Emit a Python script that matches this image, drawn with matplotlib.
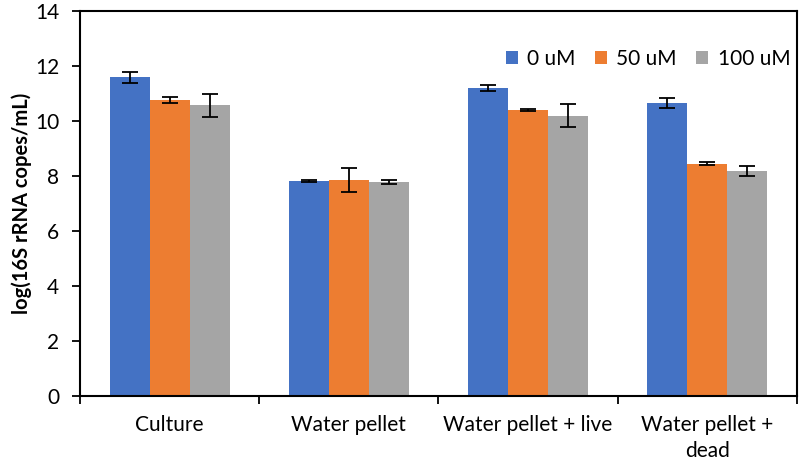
import numpy as np
import matplotlib
matplotlib.use('Agg')
import matplotlib.pyplot as plt

plt.rcParams['font.family'] = ['Lato', 'DejaVu Sans']

# data
categories = ['Culture', 'Water pellet', 'Water pellet + live', 'Water pellet +\ndead']
series = ['0 uM', '50 uM', '100 uM']
vals_0 = [11.6, 7.82, 11.2, 10.65]
vals_50 = [10.77, 7.86, 10.4, 8.45]
vals_100 = [10.57, 7.78, 10.2, 8.17]
err_0 = [0.2, 0.02, 0.12, 0.18]
err_50 = [0.1, 0.44, 0.02, 0.06]
err_100 = [0.42, 0.06, 0.42, 0.18]
colors = ['#4472C4', '#ED7D31', '#A5A5A5']

fig, ax = plt.subplots(figsize=(8, 4.63), dpi=100)
fig.subplots_adjust(left=0.1, right=0.996, top=0.976, bottom=0.145)

x = np.arange(len(categories))
w = 0.223
for i, (v, e, c, lab) in enumerate(zip([vals_0, vals_50, vals_100],
                                        [err_0, err_50, err_100], colors, series)):
    ax.bar(x + (i - 1) * w, v, w, color=c, label=lab, zorder=2)
    ax.errorbar(x + (i - 1) * w, v, yerr=e, fmt='none', ecolor='black',
                elinewidth=1.3, capsize=5.5, capthick=1.3, zorder=3)

ax.set_xlim(-0.5, len(categories) - 0.5)
ax.set_ylim(0, 14)
ax.set_yticks(range(0, 15, 2))
ax.set_xticks(x)
ax.set_xticklabels(categories, fontsize=15, linespacing=1.35)
ax.tick_params(axis='x', length=0, pad=14)
ax.set_xticks(np.arange(-0.5, len(categories), 1), minor=True)
ax.tick_params(axis='x', which='minor', length=6, width=1.3)
ax.tick_params(axis='y', labelsize=15, length=6, width=1.3, pad=9)
for s in ax.spines.values():
    s.set_linewidth(1.5)
ax.set_ylabel('log(16S rRNA copes/mL)', fontsize=14.5, fontweight='bold', labelpad=2)

ax.legend(loc='upper right', bbox_to_anchor=(1.017, 0.95), ncol=3, frameon=False,
          fontsize=15, handlelength=0.6, handleheight=0.6, handletextpad=0.45,
          columnspacing=0.9)

plt.savefig('out.png')
